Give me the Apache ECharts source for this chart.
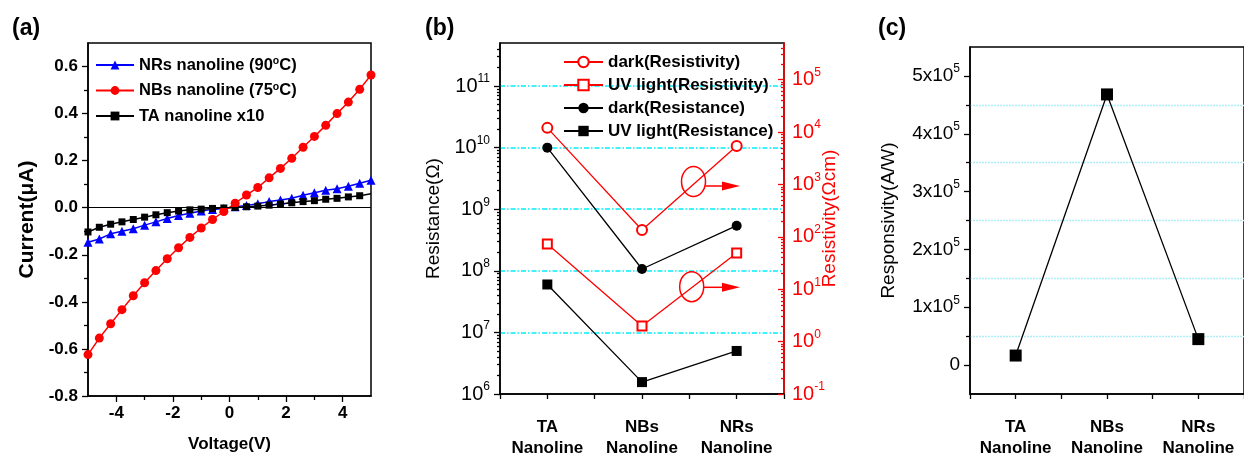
<!DOCTYPE html>
<html><head><meta charset="utf-8">
<script src="https://cdn.jsdelivr.net/npm/echarts@6/dist/echarts.min.js"></script>
<style>html,body{margin:0;padding:0;background:#fff}#main{width:1244px;height:459px}</style>
</head><body><div id="main"></div>
<script>
// ---------- Panel (a): I-V curves ----------
const voltage = [-5, -4.6, -4.2, -3.8, -3.4, -3.0, -2.6, -2.2, -1.8, -1.4, -1.0, -0.6, -0.2,
                 0.2, 0.6, 1.0, 1.4, 1.8, 2.2, 2.6, 3.0, 3.4, 3.8, 4.2, 4.6, 5.0];
const nrsCurrent = [-0.147, -0.133, -0.111, -0.100, -0.089, -0.074, -0.060, -0.046, -0.033, -0.023, -0.014, -0.007, -0.003,
                    0.004, 0.010, 0.017, 0.026, 0.033, 0.040, 0.053, 0.064, 0.074, 0.081, 0.091, 0.104, 0.117];
const nbsCurrent = [-0.624, -0.554, -0.493, -0.433, -0.374, -0.319, -0.267, -0.217, -0.170, -0.126, -0.086, -0.050, -0.016,
                    0.019, 0.054, 0.086, 0.127, 0.167, 0.210, 0.257, 0.303, 0.350, 0.400, 0.449, 0.503, 0.564];
const taCurrent = [-0.103, -0.083, -0.070, -0.060, -0.050, -0.040, -0.030, -0.021, -0.014, -0.009, -0.006, -0.003, -0.001,
                   0.001, 0.004, 0.007, 0.011, 0.016, 0.021, 0.026, 0.030, 0.036, 0.040, 0.046, 0.051, 0.059];
const seriesNamesA = ['NRs nanoline (90°C)', 'NBs nanoline (75°C)', 'TA nanoline x10'];
const xTicksA = [-4, -2, 0, 2, 4];
const xMinorA = [-3, -1, 1, 3];
const yTicksA = [-0.8, -0.6, -0.4, -0.2, 0.0, 0.2, 0.4, 0.6];
const yMinorA = [-0.7, -0.5, -0.3, -0.1, 0.1, 0.3, 0.5];

// ---------- Panel (b): resistance / resistivity ----------
const categories = ['TA\nNanoline', 'NBs\nNanoline', 'NRs\nNanoline'];
const darkResistivity = [1.2e4, 135, 5.4e3];
const uvResistivity = [73, 1.98, 49];
const darkResistance = [1.0e10, 1.07e8, 5.4e8];
const uvResistance = [6.0e7, 1.56e6, 5.0e6];
const seriesNamesB = ['dark(Resistivity)', 'UV light(Resistivity)', 'dark(Resistance)', 'UV light(Resistance)'];
const leftDecades = [6, 7, 8, 9, 10, 11];
const gridDecades = [7, 8, 9, 10, 11];
const rightDecades = [-1, 0, 1, 2, 3, 4, 5];

// ---------- Panel (c): responsivity ----------
const responsivity = [16500, 468000, 44900];
const yTicksC = [0, 100000, 200000, 300000, 400000, 500000];
const yMinorC = [50000, 150000, 250000, 350000, 450000];

const FONT = '"Liberation Sans", Arial, sans-serif';
const RED = '#ff0000', BLUE = '#0000ff', BLACK = '#000000';
const CYAN = '#00eefa', PALECYAN = '#aeeff6';

function minorLog(lo, hi) {
  const out = [];
  for (let n = Math.floor(lo); n <= Math.ceil(hi); n++) {
    for (let k = 2; k <= 9; k++) {
      const v = n + Math.log10(k);
      if (v > lo && v < hi) out.push(v);
    }
  }
  return out;
}
const pts = (xs, ys) => xs.map((x, i) => [x, ys[i]]);
const catPts = (vals) => vals.map((v, i) => [i + 1, Math.log10(v)]);

const lineAx = (c) => ({ show: true, onZero: false, lineStyle: { color: c || BLACK, width: 1.5 } });
const noLine = { show: false, onZero: false };
const tickAx = (vals, len, c, inside) => ({ show: true, customValues: vals, length: len, inside: !!inside, lineStyle: { color: c || BLACK, width: 1.3 } });
const supRich = (size, col) => ({
  b: { fontFamily: FONT, fontSize: size, color: col, lineHeight: 26 },
  s: { fontFamily: FONT, fontSize: Math.round(size * 0.62), color: col, verticalAlign: 'top', lineHeight: 12 }
});

const LMAX = Math.log10(5e11), RMAX = Math.log10(5e5);
const titleStyle = { fontFamily: FONT, fontWeight: 'bold', fontSize: 23, color: BLACK };

const option = {
  animation: false,
  backgroundColor: '#fff',
  textStyle: { fontFamily: FONT },
  title: [
    { text: '(a)', left: 12, top: 17, padding: 0, textStyle: titleStyle },
    { text: '(b)', left: 425, top: 17, padding: 0, textStyle: titleStyle },
    { text: '(c)', left: 878, top: 17, padding: 0, textStyle: titleStyle }
  ],
  grid: [
    { left: 88, top: 43, width: 283, height: 353, show: true, borderColor: BLACK, borderWidth: 1.5, backgroundColor: 'transparent' },
    { left: 500, top: 43, width: 284, height: 353, show: true, borderColor: BLACK, borderWidth: 1.5, backgroundColor: 'transparent' },
    { left: 970, top: 47, width: 284, height: 351, show: true, borderColor: BLACK, borderWidth: 1.5, backgroundColor: 'transparent' }
  ],
  legend: [
    {
      data: seriesNamesA, orient: 'vertical', left: 95, top: 56, padding: 0, itemWidth: 38, itemHeight: 11, itemGap: 7.5,
      selectedMode: false,
      formatter: (n) => n.replace('°', '{sup|o}'),
      textStyle: { fontFamily: FONT, fontWeight: 'bold', fontSize: 16.5, color: BLACK, lineHeight: 18,
        rich: { sup: { fontFamily: FONT, fontWeight: 'bold', fontSize: 10.5, verticalAlign: 'top', lineHeight: 10, color: BLACK } } }
    },
    {
      data: seriesNamesB, orient: 'vertical', left: 563, top: 53, padding: 0, itemWidth: 39, itemHeight: 13, itemGap: 5,
      selectedMode: false,
      textStyle: { fontFamily: FONT, fontWeight: 'bold', fontSize: 17, color: BLACK, lineHeight: 18 }
    }
  ],
  xAxis: [
    { // 0: (a) main
      gridIndex: 0, type: 'value', min: -5, max: 5, interval: 1,
      axisLine: lineAx(), axisTick: tickAx(xTicksA, 6), splitLine: { show: false },
      axisLabel: { customValues: xTicksA, margin: 9, fontFamily: FONT, fontWeight: 'bold', fontSize: 17, color: BLACK, formatter: (v) => String(v) },
      name: 'Voltage(V)', nameLocation: 'middle', nameGap: 40,
      nameTextStyle: { fontFamily: FONT, fontWeight: 'bold', fontSize: 17, color: BLACK }
    },
    { // 1: (a) minor
      gridIndex: 0, type: 'value', min: -5, max: 5, position: 'bottom',
      axisLine: noLine, axisTick: tickAx(xMinorA, 4), axisLabel: { show: false }, splitLine: { show: false }
    },
    { // 2: (b)
      gridIndex: 1, type: 'value', min: 0.5, max: 3.5, interval: 0.5,
      axisLine: lineAx(), axisTick: { show: true, length: 5, lineStyle: { color: BLACK, width: 1.3 } }, splitLine: { show: false },
      axisLabel: { customValues: [1, 2, 3], margin: 23, fontFamily: FONT, fontWeight: 'bold', fontSize: 17, lineHeight: 21, color: BLACK,
        formatter: (v) => categories[Math.round(v) - 1] }
    },
    { // 3: (c)
      gridIndex: 2, type: 'value', min: 0.5, max: 3.5, interval: 0.5,
      axisLine: lineAx(), axisTick: { show: true, length: 5, lineStyle: { color: BLACK, width: 1.3 } }, splitLine: { show: false },
      axisLabel: { customValues: [1, 2, 3], margin: 23, fontFamily: FONT, fontWeight: 'bold', fontSize: 17, lineHeight: 21, color: BLACK,
        formatter: (v) => categories[Math.round(v) - 1] }
    }
  ],
  yAxis: [
    { // 0: (a) main
      gridIndex: 0, type: 'value', min: -0.8, max: 0.7,
      axisLine: lineAx(), axisTick: tickAx(yTicksA, 6), splitLine: { show: false },
      axisLabel: { customValues: yTicksA, margin: 10, fontFamily: FONT, fontWeight: 'bold', fontSize: 17, color: BLACK, formatter: (v) => v.toFixed(1) },
      name: 'Current(μA)', nameLocation: 'middle', nameGap: 50, nameRotate: 90,
      nameTextStyle: { fontFamily: FONT, fontWeight: 'bold', fontSize: 21, color: BLACK }
    },
    { // 1: (a) minor
      gridIndex: 0, type: 'value', min: -0.8, max: 0.7, position: 'left',
      axisLine: noLine, axisTick: tickAx(yMinorA, 4), axisLabel: { show: false }, splitLine: { show: false }
    },
    { // 2: (b) left main (log10 space)
      gridIndex: 1, type: 'value', min: 6, max: LMAX, interval: 1, position: 'left',
      axisLine: lineAx(), axisTick: tickAx(leftDecades, 6), splitLine: { show: false },
      axisLabel: { customValues: leftDecades, margin: 10, formatter: (v) => '{b|10}{s|' + Math.round(v) + '}', rich: supRich(20, BLACK) },
      name: 'Resistance(Ω)', nameLocation: 'middle', nameGap: 57, nameRotate: 90,
      nameTextStyle: { fontFamily: FONT, fontSize: 19, color: BLACK }
    },
    { // 3: (b) left minor ticks
      gridIndex: 1, type: 'value', min: 6, max: LMAX, position: 'left',
      axisLine: noLine, axisTick: tickAx(minorLog(6, LMAX), 3), axisLabel: { show: false }, splitLine: { show: false }
    },
    { // 4: (b) right main
      gridIndex: 1, type: 'value', min: -1, max: RMAX, interval: 1, position: 'right',
      axisLine: lineAx(RED), axisTick: tickAx(rightDecades, 6, RED, true), splitLine: { show: false },
      axisLabel: { customValues: rightDecades, margin: 8, formatter: (v) => '{b|10}{s|' + Math.round(v) + '}', rich: supRich(20, RED) },
      name: 'Resistivity(Ωcm)', nameLocation: 'middle', nameGap: 36, nameRotate: 90, nameMoveOverlap: false,
      nameTextStyle: { fontFamily: FONT, fontSize: 19, color: RED }
    },
    { // 5: (b) right minor
      gridIndex: 1, type: 'value', min: -1, max: RMAX, position: 'right',
      axisLine: noLine, axisTick: tickAx(minorLog(-1, RMAX), 3, RED, true), axisLabel: { show: false }, splitLine: { show: false }
    },
    { // 6: (c) main
      gridIndex: 2, type: 'value', min: -50000, max: 550000, interval: 50000,
      axisLine: lineAx(), axisTick: tickAx(yTicksC, 6), splitLine: { show: false },
      axisLabel: { customValues: yTicksC, margin: 10,
        formatter: (v) => v === 0 ? '{b|0}' : '{b|' + Math.round(v / 100000) + 'x10}{s|5}', rich: supRich(19, BLACK) },
      name: 'Responsivity(A/W)', nameLocation: 'middle', nameGap: 72, nameRotate: 90,
      nameTextStyle: { fontFamily: FONT, fontSize: 19, color: BLACK }
    },
    { // 7: (c) minor + half-step grid lines
      gridIndex: 2, type: 'value', min: -50000, max: 550000, position: 'left',
      axisLine: noLine, axisTick: tickAx(yMinorC, 4), axisLabel: { show: false },
      splitLine: { show: true, lineStyle: { color: PALECYAN, width: 1.3, type: [2, 1] } }
    },
    { // 8: (b) decade grid lines (hidden axis)
      gridIndex: 1, type: 'value', min: 6, max: LMAX, position: 'left',
      axisLine: noLine, axisTick: { show: false, customValues: gridDecades }, axisLabel: { show: false },
      splitLine: { show: true, lineStyle: { color: CYAN, width: 1.5, type: [5, 2, 1.5, 2] } }
    }
  ],
  series: [
    { name: seriesNamesA[0], type: 'line', xAxisIndex: 0, yAxisIndex: 0, data: pts(voltage, nrsCurrent),
      symbol: 'triangle', symbolSize: 9, color: BLUE, lineStyle: { color: BLUE, width: 1.5 }, itemStyle: { color: BLUE } },
    { name: seriesNamesA[2], type: 'line', xAxisIndex: 0, yAxisIndex: 0,
      data: pts(voltage, taCurrent).map((p, i) => i === voltage.length - 1 ? { value: p, symbol: 'none' } : p),
      symbol: 'rect', symbolSize: 7, color: BLACK, lineStyle: { color: BLACK, width: 1.5 }, itemStyle: { color: BLACK },
      markLine: { silent: true, symbol: ['none', 'none'], label: { show: false }, lineStyle: { color: BLACK, width: 1, type: 'solid' }, data: [{ yAxis: 0 }] } },
    { name: seriesNamesA[1], type: 'line', xAxisIndex: 0, yAxisIndex: 0, data: pts(voltage, nbsCurrent),
      symbol: 'circle', symbolSize: 9, color: RED, lineStyle: { color: RED, width: 1.5 }, itemStyle: { color: RED } },

    { name: seriesNamesB[0], type: 'line', xAxisIndex: 2, yAxisIndex: 4, data: catPts(darkResistivity),
      symbol: 'emptyCircle', symbolSize: 10, color: RED, lineStyle: { color: RED, width: 1.3 }, itemStyle: { color: RED, borderWidth: 1.2 } },
    { name: seriesNamesB[1], type: 'line', xAxisIndex: 2, yAxisIndex: 4, data: catPts(uvResistivity),
      symbol: 'emptyRect', symbolSize: 9, color: RED, lineStyle: { color: RED, width: 1.3 }, itemStyle: { color: RED, borderWidth: 1.2 } },
    { name: seriesNamesB[2], type: 'line', xAxisIndex: 2, yAxisIndex: 2, data: catPts(darkResistance),
      symbol: 'circle', symbolSize: 10, color: BLACK, lineStyle: { color: BLACK, width: 1.3 }, itemStyle: { color: BLACK } },
    { name: seriesNamesB[3], type: 'line', xAxisIndex: 2, yAxisIndex: 2, data: catPts(uvResistance),
      symbol: 'rect', symbolSize: 10, color: BLACK, lineStyle: { color: BLACK, width: 1.3 }, itemStyle: { color: BLACK } },

    { name: 'Responsivity', type: 'line', xAxisIndex: 3, yAxisIndex: 6, data: responsivity.map((v, i) => [i + 1, v]),
      symbol: 'rect', symbolSize: 12, color: BLACK, lineStyle: { color: BLACK, width: 1.3 }, itemStyle: { color: BLACK } }
  ],
  graphic: [
    { type: 'ellipse', shape: { cx: 693.5, cy: 181.5, rx: 12, ry: 15 }, style: { fill: 'none', stroke: RED, lineWidth: 1.5 }, z: 100 },
    { type: 'line', shape: { x1: 705.5, y1: 186, x2: 724, y2: 186 }, style: { stroke: RED, lineWidth: 1.5 }, z: 100 },
    { type: 'polygon', shape: { points: [[722, 181.5], [740, 186], [722, 190.5]] }, style: { fill: RED }, z: 100 },
    { type: 'ellipse', shape: { cx: 691.7, cy: 286.7, rx: 12, ry: 15 }, style: { fill: 'none', stroke: RED, lineWidth: 1.5 }, z: 100 },
    { type: 'line', shape: { x1: 703.7, y1: 287.3, x2: 724, y2: 287.3 }, style: { stroke: RED, lineWidth: 1.5 }, z: 100 },
    { type: 'polygon', shape: { points: [[722, 282.8], [740, 287.3], [722, 291.8]] }, style: { fill: RED }, z: 100 }
  ]
};

const chart = echarts.init(document.getElementById('main'), null, { renderer: 'canvas' });
chart.setOption(option);
</script>
</body></html>
